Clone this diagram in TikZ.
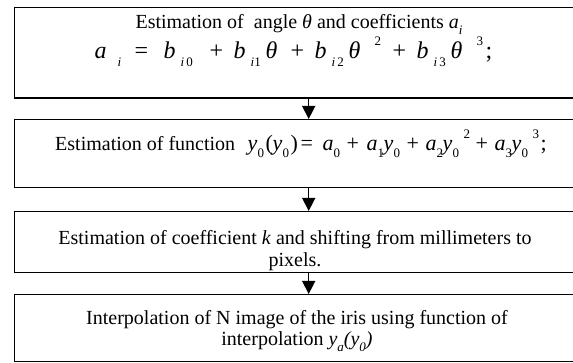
\documentclass[tikz,border=0pt]{standalone}
\usepackage{fontspec}
\setmainfont{Liberation Serif}
\usetikzlibrary{positioning,arrows.meta}
% small lowered / raised indices for the formulas
\newcommand{\lowidx}[1]{\raisebox{-0.3em}{\fontsize{13}{13}\selectfont #1}}
\newcommand{\highidx}[1]{\raisebox{0.55em}{\fontsize{13}{13}\selectfont #1}}
% put a piece of a formula at a fixed offset (pt) from the start
\newcommand{\putat}[2]{\makebox[0pt][l]{\hspace{#1pt}#2}}
\tikzset{
  stagebox/.style={draw, line width=1.4pt, minimum width=566pt, anchor=north west, inner sep=0pt},
  flowarrow/.style={-{Triangle[width=13pt,length=13pt]}, line width=1.4pt},
  boxtext/.style={font=\fontsize{20}{20}\selectfont, anchor=base, inner sep=0pt},
  eqtext/.style={font=\fontsize{22}{22}\selectfont, anchor=base west, inner sep=0pt}
}
\begin{document}
\begin{tikzpicture}[x=1pt, y=-1pt]
  \useasboundingbox (0,0) rectangle (573,363);
  \clip (0,0) rectangle (573,363);
  % stages
  \node[stagebox, minimum height=90.5pt] (angle) at (13.5,7) {};
  \node[stagebox, minimum height=68pt] (func) at (13.5,119) {};
  \node[stagebox, minimum height=61pt] (scale) at (13.5,211) {};
  \node[stagebox, minimum height=67pt] (interp) at (13.5,294) {};
  % texts of stage 1
  \node[boxtext] (angleA) at (299,29) {Estimation of \ angle \textit{θ} and coefficients \textit{a}\lowidx{\textit{i}}};
  \node[eqtext, font=\fontsize{24}{24}\selectfont] (angleB) at (94,59) {\putat{0}{\textit{a}}\putat{23}{\lowidx{\textit{i}}}\putat{40}{=}%
    \putat{69}{\textit{b}}\putat{86}{\lowidx{\textit{i}\,0}}\putat{115}{+}%
    \putat{139}{\textit{b}}\putat{156}{\lowidx{\textit{i}1}}\putat{171}{\textit{θ}}\putat{196}{+}%
    \putat{220}{\textit{b}}\putat{237}{\lowidx{\textit{i}\,2}}\putat{254}{\textit{θ}}\putat{280}{\highidx{2}}\putat{298}{+}%
    \putat{322}{\textit{b}}\putat{339}{\lowidx{\textit{i}\,3}}\putat{356}{\textit{θ}}\putat{382}{\highidx{3}}\putat{391}{;}\hspace{396pt}};
  % text of stage 2
  \node[boxtext, anchor=base west] (funcA) at (55,151) {Estimation of function};
  \node[eqtext] (funcB) at (247,151) {\putat{0}{\textit{y}}\putat{10}{\lowidx{0}}\putat{18}{(}\putat{25}{\textit{y}}\putat{35}{\lowidx{0}}\putat{43}{)}%
    \putat{53}{=}\putat{75}{\textit{a}}\putat{86}{\lowidx{0}}\putat{99}{+}%
    \putat{119}{\textit{a}}\putat{130}{\lowidx{1}}\putat{136}{\textit{y}}\putat{146}{\lowidx{0}}\putat{159}{+}%
    \putat{178}{\textit{a}}\putat{189}{\lowidx{2}}\putat{195}{\textit{y}}\putat{205}{\lowidx{0}}\putat{216}{\highidx{2}}\putat{228}{+}%
    \putat{247}{\textit{a}}\putat{258}{\lowidx{3}}\putat{264}{\textit{y}}\putat{274}{\lowidx{0}}\putat{285}{\highidx{3}}\putat{293}{;}\hspace{298pt}};
  % texts of stage 3
  \node[boxtext] (scaleA) at (295,245) {Estimation of coefficient \textit{k} and shifting from millimeters to};
  \begin{scope}
    \clip (13.5,211) rectangle (573,270.5);
    \node[boxtext] (scaleB) at (295,267) {pixels.};
  \end{scope}
  % texts of stage 4
  \node[boxtext] (interpA) at (297,325) {Interpolation of N image of the iris using function of};
  \node[boxtext] (interpB) at (297,345) {interpolation \textit{y}\lowidx{\textit{a}}\textit{(y}\lowidx{\textit{0}}\textit{)}};
  % connectors
  \draw[flowarrow] ([xshift=11.5pt]angle.south) -- ([xshift=11.5pt]func.north);
  \draw[flowarrow] ([xshift=11.5pt]func.south) -- ([xshift=11.5pt]scale.north);
  \draw[flowarrow] ([xshift=11.5pt]scale.south) -- ([xshift=11.5pt]interp.north);
\end{tikzpicture}
\end{document}
